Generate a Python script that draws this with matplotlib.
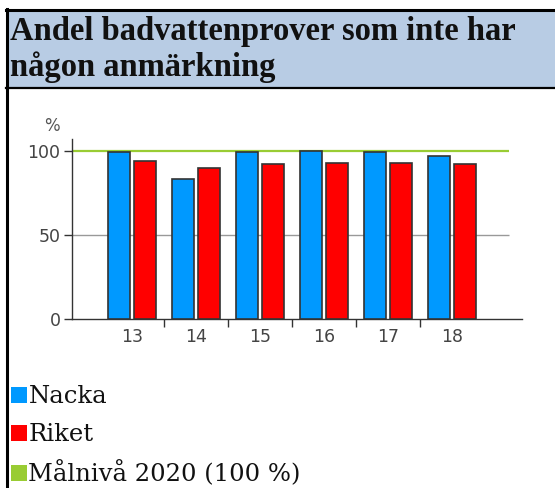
import numpy as np
import matplotlib.pyplot as plt
from matplotlib.patches import Rectangle
from matplotlib.lines import Line2D

# Data
years = ['13', '14', '15', '16', '17', '18']
nacka = [99, 83, 99, 100, 99, 97]
riket = [94, 90, 92, 93, 93, 92]
target = 100

W, H = 555, 488
fig = plt.figure(figsize=(W / 100, H / 100), dpi=100)


def fx(px):
    return px / W


def fy(py):
    return 1 - py / H


# Title band with border
fig.patches.append(Rectangle((fx(6), fy(88)), fx(560) - fx(6), fy(9) - fy(88),
                             transform=fig.transFigure, facecolor='#b8cce4',
                             edgecolor='none', zorder=0))
fig.lines.append(Line2D([fx(6), 1.0], [fy(9.5), fy(9.5)], transform=fig.transFigure,
                        color='black', lw=2.2))
fig.lines.append(Line2D([fx(6), 1.0], [fy(88), fy(88)], transform=fig.transFigure,
                        color='black', lw=1.6))
fig.lines.append(Line2D([fx(7), fx(7)], [fy(8.5), 0.0], transform=fig.transFigure,
                        color='black', lw=2.2))

title_kw = dict(family='Liberation Serif', weight='bold', fontsize=23.5,
                color='#111111', va='baseline', ha='left')
fig.text(fx(10), fy(40), 'Andel badvattenprover som inte har', **title_kw)
fig.text(fx(10), fy(76), 'någon anmärkning', **title_kw)

# Chart area
ax = fig.add_axes([fx(71.7), fy(318.7), fx(521.7) - fx(71.7), fy(139) - fy(318.7)])
x = np.arange(len(years))
bw = 0.344
off = 0.203
ax.bar(x - off, nacka, bw, color='#0099ff', edgecolor='#333333', linewidth=1.2, zorder=3)
ax.bar(x + off, riket, bw, color='#ff0000', edgecolor='#333333', linewidth=1.2, zorder=3)
ax.set_xlim(-0.947, 6.084)
ax.set_ylim(0, 107)

xend = 5.886
ax.hlines(50, -0.947, xend, color='#999999', lw=1, zorder=1)
ax.hlines(target, -0.947, xend, color='#99cc33', lw=1.6, zorder=2)

for s in ['top', 'right']:
    ax.spines[s].set_visible(False)
for s in ['left', 'bottom']:
    ax.spines[s].set_color('#333333')
    ax.spines[s].set_linewidth(1)

ax.set_yticks([0, 50, 100])
ax.set_yticklabels(['0', '50', '100'])
ax.tick_params(axis='y', length=6, width=1, color='#333333', pad=2,
               labelsize=12.5, labelcolor='#444444')
ax.set_xticks(x[:-1] + 0.5)
ax.set_xticklabels([])
ax.set_xticks(x, minor=True)
ax.set_xticklabels(years, minor=True)
ax.tick_params(axis='x', which='major', length=6, width=1, color='#333333')
ax.tick_params(axis='x', which='minor', length=0, pad=7,
               labelsize=12.5, labelcolor='#444444')

fig.text(fx(51.7), fy(126), '%', fontsize=12, color='#555555', ha='center', va='center')

# Legend below the chart
legend_items = ['Nacka', 'Riket', 'Målnivå 2020 (100 %)']
legend_colors = ['#0099ff', '#ff0000', '#99cc33']
legend_tops = [387, 425, 465]
for label, col, top in zip(legend_items, legend_colors, legend_tops):
    fig.patches.append(Rectangle((fx(11), fy(top + 16)), fx(16), fy(0) - fy(16),
                                 transform=fig.transFigure, facecolor=col,
                                 edgecolor='none'))
    fig.text(fx(28.5), fy(top + 16), label, family='DejaVu Serif', fontsize=17.5,
             color='#111111', ha='left', va='baseline')

fig.savefig('out.png', dpi=100)
